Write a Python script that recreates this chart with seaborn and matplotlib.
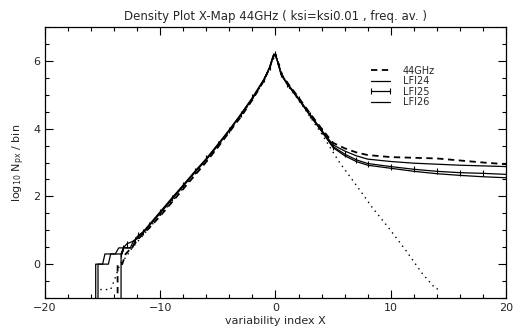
"""
Density plot of the variability index X for the 44GHz map and its LFI channels.
"""

import numpy as np
import pandas as pd
import matplotlib
matplotlib.use('Agg')
import matplotlib.pyplot as plt
import seaborn as sns
from matplotlib.ticker import MultipleLocator

# values (x = variability index, y = log10 N_px / bin)
x_44ghz = [-13.7, -13.7, -13.3, -13.0, -12.5, -12.0, -11.5, -11.0, -10.0, -9.0, -8.0, -7.0,
           -6.0, -5.0, -4.0, -3.0, -2.0, -1.0, -0.5, -0.2, 0.0, 0.3, 0.5, 1.0, 2.0, 3.0,
           4.0, 5.0, 6.0, 7.0, 8.0, 10.0, 12.0, 14.0, 16.0, 18.0, 20.0]
y_44ghz = [-1.5, 0.0, 0.0, 0.3, 0.48, 0.7, 0.9, 1.05, 1.42, 1.82, 2.22, 2.62,
           3.02, 3.45, 3.9, 4.35, 4.85, 5.42, 5.8, 6.12, 6.2, 5.85, 5.62, 5.37, 4.92, 4.45,
           4.0, 3.58, 3.42, 3.3, 3.22, 3.16, 3.14, 3.12, 3.06, 3.0, 2.95]

x_lfi24 = [-15.4, -15.4, -15.0, -14.8, -13.3, -13.2, -12.6, -12.3, -11.8, -11.3, -11.0, -10.0,
           -9.0, -8.0, -7.0, -6.0, -5.0, -4.0, -3.0, -2.0, -1.0, -0.5, -0.2, 0.0, 0.3, 0.5,
           1.0, 2.0, 3.0, 4.0, 5.0, 6.0, 7.0, 8.0, 10.0, 12.0, 14.0, 16.0, 18.0, 20.0]
y_lfi24 = [-1.5, 0.0, 0.0, 0.3, 0.3, 0.48, 0.48, 0.7, 0.78, 1.0, 1.12, 1.52,
           1.93, 2.32, 2.72, 3.1, 3.52, 3.96, 4.42, 4.9, 5.45, 5.8, 6.15, 6.2, 5.85, 5.6,
           5.35, 4.9, 4.42, 3.96, 3.52, 3.34, 3.2, 3.1, 3.03, 2.98, 2.95, 2.92, 2.9, 2.88]

x_lfi25 = [-13.4, -13.4, -13.2, -12.9, -12.2, -11.9, -11.5, -11.0, -10.0,
           -9.0, -8.0, -7.0, -6.0, -5.0, -4.0, -3.0, -2.0, -1.0, -0.5, -0.2, 0.0, 0.3, 0.5,
           1.0, 2.0, 3.0, 4.0, 5.0, 6.0, 7.0, 8.0, 10.0, 12.0, 14.0, 16.0, 18.0, 20.0]
y_lfi25 = [-1.5, 0.3, 0.48, 0.6, 0.7, 0.85, 0.95, 1.15, 1.55,
           1.95, 2.34, 2.74, 3.12, 3.54, 3.97, 4.43, 4.92, 5.46, 5.82, 6.14, 6.2, 5.84, 5.6,
           5.33, 4.88, 4.4, 3.93, 3.47, 3.25, 3.08, 2.97, 2.88, 2.8, 2.74, 2.7, 2.68, 2.65]

x_lfi26 = [-15.6, -15.6, -14.5, -14.3, -13.9, -13.6, -12.4, -12.1, -11.6, -11.0, -10.0,
           -9.0, -8.0, -7.0, -6.0, -5.0, -4.0, -3.0, -2.0, -1.0, -0.5, -0.2, 0.0, 0.3, 0.5,
           1.0, 2.0, 3.0, 4.0, 5.0, 6.0, 7.0, 8.0, 10.0, 12.0, 14.0, 16.0, 18.0, 20.0]
y_lfi26 = [-1.5, 0.0, 0.0, 0.3, 0.3, 0.48, 0.48, 0.78, 0.9, 1.12, 1.5,
           1.9, 2.3, 2.7, 3.08, 3.5, 3.95, 4.4, 4.88, 5.44, 5.8, 6.15, 6.2, 5.83, 5.58,
           5.32, 4.86, 4.38, 3.92, 3.44, 3.2, 3.03, 2.92, 2.83, 2.74, 2.67, 2.62, 2.58, 2.55]

# dotted reference curve (no legend entry)
x_ref = [-15.2, -14.3, -13.9, -13.5, -13.0, -12.5, -12.0, -11.0, -10.0, -9.0, -8.0, -7.0,
         -6.0, -5.0, -4.0, -3.0, -2.0, -1.0, -0.3, 0.0, 0.3, 1.0, 2.0, 3.0, 4.0, 5.0,
         5.6, 6.3, 7.8, 8.4, 9.8, 11.3, 12.7, 13.9, 14.1]
y_ref = [-0.75, -0.75, -0.4, 0.0, 0.2, 0.45, 0.65, 1.05, 1.45, 1.85, 2.25, 2.65,
         3.04, 3.46, 3.92, 4.38, 4.87, 5.4, 6.0, 6.15, 5.85, 5.3, 4.85, 4.35, 3.85, 3.3,
         2.98, 2.66, 1.96, 1.67, 1.08, 0.41, -0.26, -0.73, -0.73]

series = [
    ('44GHz', x_44ghz, y_44ghz, dict(linestyle=(0, (3.5, 2.5)), linewidth=1.3)),
    ('LFI24', x_lfi24, y_lfi24, dict(linestyle='-', linewidth=0.9)),
    ('LFI25', x_lfi25, y_lfi25, dict(linestyle='-', linewidth=0.9, marker='|',
                                     markersize=4, markeredgewidth=0.8,
                                     markeredgecolor='black')),
    ('LFI26', x_lfi26, y_lfi26, dict(linestyle='-', linewidth=0.9)),
]

sns.set_style('ticks')
plt.rcParams['font.family'] = ['DejaVu Sans']

fig = plt.figure(figsize=(5.22, 3.35), dpi=100)
ax = fig.add_axes([0.0862, 0.1104, 0.8831, 0.809])

for name, xs, ys, style in series:
    df = pd.DataFrame({'x': xs, 'y': ys})
    sns.lineplot(data=df, x='x', y='y', estimator=None, sort=False, color='black',
                 label=name, ax=ax, **style)

ref = pd.DataFrame({'x': x_ref, 'y': y_ref})
sns.lineplot(data=ref, x='x', y='y', estimator=None, sort=False, color='black',
             linestyle=(0, (1, 3)), linewidth=1.0, ax=ax, legend=False)

ax.set_xlim(-20, 20)
ax.set_ylim(-1, 7)
ax.xaxis.set_major_locator(MultipleLocator(10))
ax.xaxis.set_minor_locator(MultipleLocator(2))
ax.yaxis.set_major_locator(MultipleLocator(2))
ax.yaxis.set_minor_locator(MultipleLocator(0.5))
ax.tick_params(which='both', direction='in', top=True, right=True, labelsize=8,
               color='black', width=0.8)
ax.tick_params(which='major', length=6)
ax.tick_params(which='minor', length=3)
for sp in ax.spines.values():
    sp.set_linewidth(0.9)
    sp.set_color('black')

ax.set_title('Density Plot X-Map 44GHz ( ksi=ksi0.01 , freq. av. )', fontsize=8.5, pad=5)
ax.set_xlabel('variability index X', fontsize=8, labelpad=2)
ax.set_ylabel(r'log$_{10}$ N$_{\mathrm{px}}$ / bin', fontsize=8, labelpad=4)

ax.legend(loc='upper left', bbox_to_anchor=(0.69, 0.875), frameon=False, fontsize=7,
          handlelength=2.6, handletextpad=1.0, labelspacing=0.05, borderpad=0,
          numpoints=2)

fig.savefig('out.png', dpi=100, facecolor='white')
